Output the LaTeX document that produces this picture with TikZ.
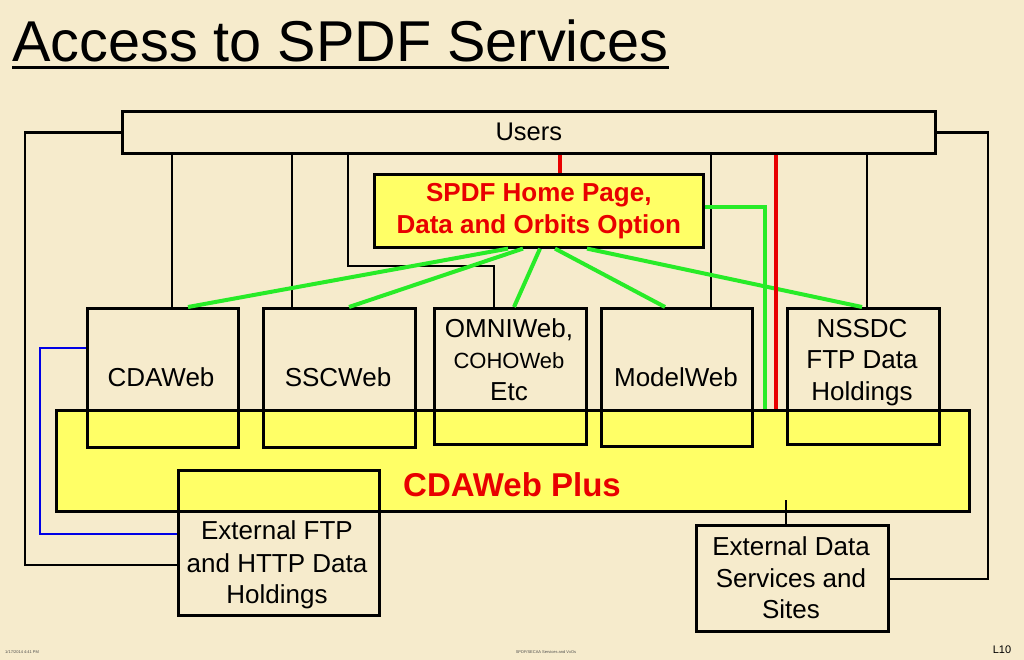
\documentclass[tikz,border=0pt]{standalone}
\usepackage{fontspec}
\setmainfont{Liberation Sans}
\usetikzlibrary{calc}
\definecolor{bg}{RGB}{246,235,204}
\definecolor{hiyel}{RGB}{255,255,102}
\definecolor{hired}{RGB}{232,0,0}
\definecolor{higreen}{RGB}{40,235,40}
\definecolor{hiblue}{RGB}{0,0,230}
\begin{document}
\begin{tikzpicture}[x=1pt,y=-1pt,
  box/.style={draw=black,line width=2.6pt,inner sep=0pt,anchor=north west},
  lbl/.style={font=\fontsize{26}{31}\selectfont,inner sep=0pt,anchor=base},
  wire/.style={draw=black,line width=2.6pt},
  gwire/.style={draw=higreen,line width=4pt},
  rwire/.style={draw=hired,line width=4.5pt},
  bwire/.style={draw=hiblue,line width=2.4pt}]
\fill[bg] (0,0) rectangle (1024,660);
\useasboundingbox (0,0) rectangle (1024,660);
% title
\node[anchor=base west,inner sep=0pt,font=\fontsize{57.6}{60}\selectfont] (title) at (12,62) {Access to SPDF Services};
\draw[line width=3pt] ($(title.base west)+(0,6)$) -- ($(title.base east)+(0,6)$);
% band
\node[box,fill=hiyel,minimum width=913pt,minimum height=101pt] (plus) at (55,409) {};
\node[font=\bfseries\fontsize{33}{36}\selectfont,text=hired,inner sep=0pt] (plustxt) at (512,485) {CDAWeb Plus};
% users
\node[box,minimum width=813pt,minimum height=42pt,font=\fontsize{25.5}{30}\selectfont] (users) at (121,110) {Users};
% spdf
\node[box,fill=hiyel,minimum width=329pt,minimum height=73pt,align=center,text=hired,font=\bfseries\fontsize{26}{32}\selectfont] (spdf) at (373,173) {SPDF Home Page,\\Data and Orbits Option};
% services
\node[box,minimum width=151pt,minimum height=139pt] (cda) at (86,307) {};
\node[box,minimum width=152pt,minimum height=139pt] (ssc) at (262,307) {};
\node[box,minimum width=152pt,minimum height=136pt] (omni) at (433,307) {};
\node[box,minimum width=151pt,minimum height=138pt] (model) at (600,307) {};
\node[box,minimum width=152pt,minimum height=136pt] (nssdc) at (786,307) {};
\node[lbl] (cdat) at (161,386) {CDAWeb};
\node[lbl] (ssct) at (338,386) {SSCWeb};
\node[lbl] (omt1) at (509,337) {OMNIWeb,};
\node[lbl,font=\fontsize{22}{26}\selectfont] (omt2) at (509,368) {COHOWeb};
\node[lbl] (omt3) at (509,400) {Etc};
\node[lbl] (modt) at (676,386) {ModelWeb};
\node[lbl] (nst1) at (862,337) {NSSDC};
\node[lbl] (nst2) at (862,368) {FTP Data};
\node[lbl] (nst3) at (862,400) {Holdings};
% external boxes
\node[box,minimum width=201pt,minimum height=145pt] (ftp) at (177,469) {};
\node[lbl] (ftt1) at (277,539) {External FTP};
\node[lbl] (ftt2) at (277,572) {and HTTP Data};
\node[lbl] (ftt3) at (277,603) {Holdings};
\node[box,minimum width=192pt,minimum height=106pt] (extd) at (695,524) {};
\node[lbl] (edt1) at (791,555) {External Data};
\node[lbl] (edt2) at (791,587) {Services and};
\node[lbl] (edt3) at (791,618) {Sites};
% black connectors
\coordinate (lcorner) at (25,565);
\coordinate (rcorner) at (988,579);
\draw[wire] (users.west) -| (lcorner) -- (lcorner -| ftp.west);
\draw[wire] (users.east) -| (rcorner) -- (rcorner -| extd.east);
\coordinate (v1) at (172,0);
\coordinate (v2) at (292,0);
\coordinate (v4) at (711,0);
\coordinate (v5) at (867,0);
\coordinate (v3a) at (348,266);
\coordinate (v3b) at (494,266);
\draw[wire] (v1 |- users.south) -- (v1 |- cda.north);
\draw[wire] (v2 |- users.south) -- (v2 |- ssc.north);
\draw[wire] (v4 |- users.south) -- (v4 |- model.north);
\draw[wire] (v5 |- users.south) -- (v5 |- nssdc.north);
\draw[wire] (v3a |- users.south) -- (v3a) -- (v3b) -- (v3b |- omni.north);
\coordinate (ed) at (786,500);
\draw[wire] (ed |- extd.north) -- (ed);
% blue
\coordinate (bl1) at (40,348);
\coordinate (bl2) at (40,534);
\draw[bwire] (bl1 -| cda.west) -- (bl1) -- (bl2) -- (bl2 -| ftp.west);
% green
\coordinate (g0) at (765,207);
\draw[gwire] (spdf.east |- g0) -- (g0) -- (g0 |- plus.north);
\coordinate (gs1) at (508,0);
\coordinate (gs2) at (523,0);
\coordinate (gs3) at (540,0);
\coordinate (gs4) at (555,0);
\coordinate (gs5) at (587,0);
\coordinate (ge1) at (188,0);
\coordinate (ge2) at (349,0);
\coordinate (ge3) at (514,0);
\coordinate (ge4) at (665,0);
\coordinate (ge5) at (862,0);
\draw[gwire] (gs1 |- spdf.south) -- (ge1 |- cda.north);
\draw[gwire] (gs2 |- spdf.south) -- (ge2 |- ssc.north);
\draw[gwire] (gs3 |- spdf.south) -- (ge3 |- omni.north);
\draw[gwire] (gs4 |- spdf.south) -- (ge4 |- model.north);
\draw[gwire] (gs5 |- spdf.south) -- (ge5 |- nssdc.north);
% red
\coordinate (r1) at (560,0);
\coordinate (r2) at (776,0);
\draw[rwire] (r1 |- users.south) -- (r1 |- spdf.north);
\draw[rwire] (r2 |- users.south) -- (r2 |- plus.north);
% footer
\node[font=\fontsize{4}{4}\selectfont,anchor=west,inner sep=0pt,text=black!70] (date) at (5,652) {1/17/2014 4:41 PM};
\node[font=\fontsize{4}{4}\selectfont,inner sep=0pt,text=black!70] (foot) at (546,652) {SPDF/SECAA Services and VxOs};
\node[font=\fontsize{11}{12}\selectfont,inner sep=0pt] (pg) at (1002,650) {L10};
\end{tikzpicture}
\end{document}
